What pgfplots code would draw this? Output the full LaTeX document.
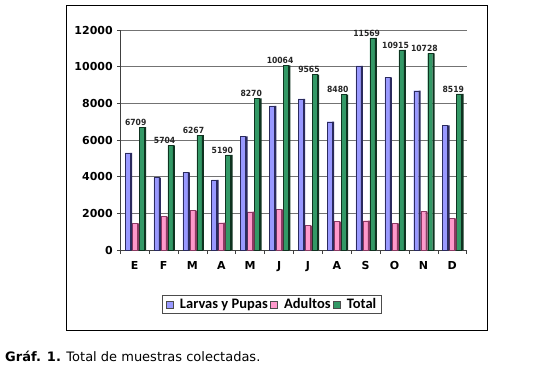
\documentclass[border=0pt]{standalone}
\usepackage{pgfplots}
\pgfplotsset{compat=1.18}
\usepackage{fontspec}
\setmainfont{DejaVu Sans}
\newfontfamily\carlito{Carlito}
\newfontfamily\djcond{DejaVu Sans Condensed}
\definecolor{larvas}{HTML}{9999FF}
\definecolor{larvasD}{HTML}{2B2B5E}
\definecolor{adultos}{HTML}{FF99CC}
\definecolor{adultosD}{HTML}{8C3A63}
\definecolor{total}{HTML}{339966}
\definecolor{totalD}{HTML}{0F3320}
\begin{document}
\begin{tikzpicture}[x=1pt,y=1pt]
\useasboundingbox (0,0) rectangle (549,365);
\draw[line width=0.9pt] (66.5,{365-5.5}) rectangle (487.3,{365-330.3});
\begin{axis}[
  at={(120.3pt,115pt)}, anchor=south west,
  scale only axis, width=346.4pt, height=220pt,
  xmin=-0.5, xmax=11.5, ymin=0, ymax=12000,
  axis x line*=bottom, axis y line*=left,
  axis line style={black!75, line width=0.8pt},
  xtick={0,...,11},
  xticklabels={E,F,M,A,M,J,J,A,S,O,N,D},
  minor xtick={-0.5,0.5,...,11.5},
  major x tick style={draw=none},
  minor x tick style={black!75, line width=0.6pt},
  minor tick length=4pt,
  ytick={0,2000,...,12000},
  tick align=outside, major tick length=3pt,
  ytick style={black!75, line width=0.6pt},
  ymajorgrids, grid style={black!55, line width=0.8pt},
  scaled y ticks=false,
  /pgf/number format/.cd, 1000 sep={}, assume math mode=true, /pgfplots/.cd,
  yticklabel style={font=\bfseries\fontsize{11}{12}\selectfont, xshift=-1pt},
  xticklabel style={font=\bfseries\fontsize{11}{12}\selectfont, yshift=-5pt},
  legend columns=3,
  legend style={at={(0.4377,-0.247)}, anchor=center, draw=black!70, line width=0.6pt,
    font=\carlito\bfseries\fontsize{14.5}{16}\selectfont,
    /tikz/every odd column/.append style={column sep=5pt},
    inner xsep=3pt, inner ysep=1pt},
  legend image code/.code={\draw[#1, draw=black!70, line width=0.4pt] (1pt,-3.5pt) rectangle (8pt,3.5pt);},
]
% Larvas y Pupas
\addplot[ybar, bar width=5pt, bar shift=-7.2pt, fill=larvas, draw=larvasD, line width=0.3pt]
  coordinates {(0,5300) (1,3950) (2,4240) (3,3820) (4,6200) (5,7860) (6,8240) (7,7000) (8,10040) (9,9420) (10,8690) (11,6800)};
\addlegendentry{Larvas y Pupas}
% Adultos
\addplot[ybar, bar width=5pt, bar shift=-0.2pt, fill=adultos, draw=adultosD, line width=0.3pt]
  coordinates {(0,1450) (1,1820) (2,2150) (3,1490) (4,2090) (5,2220) (6,1330) (7,1550) (8,1600) (9,1450) (10,2100) (11,1730)};
\addlegendentry{Adultos}
% Total
\addplot[ybar, bar width=5pt, bar shift=6.8pt, fill=total, draw=totalD, line width=0.3pt,
  nodes near coords, nodes near coords align={vertical},
  every node near coord/.append style={font=\djcond\bfseries\fontsize{8.5}{10}\selectfont, text=black!85, xshift=1pt, inner sep=1.5pt}]
  coordinates {(0,6709) (1,5704) (2,6267) (3,5190) (4,8270) (5,10064) (6,9565) (7,8480) (8,11569) (9,10915) (10,10728) (11,8519)};
\addlegendentry{Total}
% dark sides (3D effect)
\addplot[ybar, bar width=2pt, bar shift=-3.7pt, fill=larvasD, draw=none, forget plot]
  coordinates {(0,5300) (1,3950) (2,4240) (3,3820) (4,6200) (5,7860) (6,8240) (7,7000) (8,10040) (9,9420) (10,8690) (11,6800)};
\addplot[ybar, bar width=2pt, bar shift=3.3pt, fill=adultosD, draw=none, forget plot]
  coordinates {(0,1450) (1,1820) (2,2150) (3,1490) (4,2090) (5,2220) (6,1330) (7,1550) (8,1600) (9,1450) (10,2100) (11,1730)};
\addplot[ybar, bar width=2pt, bar shift=10.3pt, fill=totalD, draw=none, forget plot]
  coordinates {(0,6709) (1,5704) (2,6267) (3,5190) (4,8270) (5,10064) (6,9565) (7,8480) (8,11569) (9,10915) (10,10728) (11,8519)};
\end{axis}
\node[anchor=base west, inner sep=0pt, font=\fontsize{13}{15}\selectfont] at (5,{365-361}) {\textbf{Gráf. 1.} Total de muestras colectadas.};
\end{tikzpicture}
\end{document}
